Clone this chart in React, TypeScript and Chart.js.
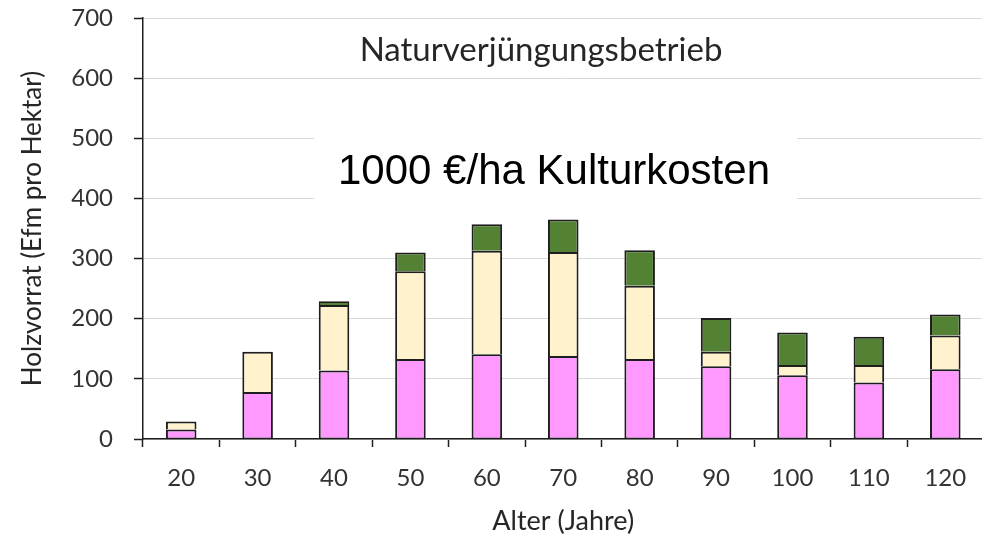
import React, { useEffect, useRef } from 'react';
import { Chart, registerables } from 'chart.js';

Chart.register(...registerables);

const categories = ['20', '30', '40', '50', '60', '70', '80', '90', '100', '110', '120'];
const pinkValues = [16, 78, 114, 133, 141, 138, 133, 121, 106, 94, 116];
const creamValues = [13, 67, 109, 146, 172, 173, 122, 24, 17, 29, 56];
const greenValues = [0, 0, 6, 31, 44, 54, 59, 56, 54, 47, 35];
const yTickValues = [0, 100, 200, 300, 400, 500, 600, 700];
const chartTitle = 'Naturverjüngungsbetrieb';
const annotationText = '1000 €/ha Kulturkosten';
const xAxisTitle = 'Alter (Jahre)';
const yAxisTitle = 'Holzvorrat (Efm pro Hektar)';

const CAL = 'Lato, "Open Sans", sans-serif';
const EDGE = '#1e1e1e';

function segmentBorder(ctx: any) {
  const di = ctx.datasetIndex;
  return {
    left: 2,
    right: 2,
    top: 2,
    bottom: di === 0 ? 1 : 0,
  };
}

const overlayPlugin = {
  id: 'overlayTexts',
  beforeDatasetsDraw(chart: any) {
    const { ctx, chartArea } = chart;
    const L = chartArea.left;
    const T = chartArea.top;
    ctx.save();
    ctx.fillStyle = '#ffffff';
    ctx.fillRect(L + 171, T + 116, 483, 69);
    ctx.fillStyle = '#000000';
    ctx.font = '42px "Liberation Sans", Arial, sans-serif';
    ctx.textAlign = 'center';
    ctx.textBaseline = 'middle';
    ctx.fillText(annotationText, L + 411, T + 154);
    ctx.fillStyle = '#262626';
    ctx.font = '33px ' + CAL;
    ctx.fillText(chartTitle, L + 398, T + 32);
    ctx.restore();
  },
};

export default function App() {
  const ref = useRef<HTMLCanvasElement | null>(null);

  useEffect(() => {
    document.body.style.margin = '0';
    const canvas = ref.current;
    if (!canvas) return;
    const mk = (label: string, data: number[], color: string) => ({
      label,
      data,
      backgroundColor: color,
      borderColor: EDGE,
      borderWidth: segmentBorder,
      borderSkipped: false,
    });
    const chart = new Chart(canvas, {
      type: 'bar',
      data: {
        labels: categories,
        datasets: [
          mk('Pink', pinkValues, '#FF99FF'),
          mk('Cream', creamValues, '#FFF2CC'),
          mk('Green', greenValues, '#548235'),
        ] as any,
      },
      options: {
        responsive: false,
        animation: false,
        devicePixelRatio: 1,
        layout: { padding: { left: 0, right: 6.5, top: 18, bottom: 0 } },
        datasets: {
          bar: { barPercentage: 0.8, categoryPercentage: 0.5 },
        },
        plugins: {
          legend: { display: false },
          tooltip: { enabled: false },
          title: { display: false },
        },
        scales: {
          x: {
            stacked: true,
            grid: {
              display: true,
              drawOnChartArea: false,
              drawTicks: true,
              tickLength: 8,
              tickColor: EDGE,
              tickWidth: 1.5,
              offset: true,
            },
            border: { display: true, color: EDGE, width: 1.5 },
            ticks: {
              color: '#333333',
              font: { family: CAL, size: 24 },
              padding: 17,
              maxRotation: 0,
              autoSkip: false,
            },
            title: {
              display: true,
              text: xAxisTitle,
              color: '#262626',
              font: { family: CAL, size: 27 },
              padding: { top: 0, bottom: 1 },
            },
            afterFit(scale: any) {
              scale.height = 99;
              scale.paddingLeft = 0;
              scale.paddingRight = 0;
            },
          },
          y: {
            stacked: true,
            min: 0,
            max: 700,
            afterBuildTicks(scale: any) {
              scale.ticks = yTickValues.map((v) => ({ value: v }));
            },
            grid: {
              color: '#d9d9d9',
              lineWidth: 1,
              drawTicks: true,
              tickLength: 9,
              tickColor: EDGE,
              tickWidth: 1.5,
            },
            border: { display: true, color: EDGE, width: 1.5 },
            ticks: {
              color: '#333333',
              font: { family: CAL, size: 24 },
              padding: 21,
            },
            title: {
              display: true,
              text: yAxisTitle,
              color: '#262626',
              font: { family: CAL, size: 26 },
              padding: { top: 17, bottom: 0 },
            },
            afterFit(scale: any) {
              scale.width = 143;
              scale.paddingTop = 0;
              scale.paddingBottom = 0;
            },
          },
        },
      },
      plugins: [overlayPlugin],
    });
    return () => chart.destroy();
  }, []);

  return (
    <div style={{ width: 982, height: 538, overflow: 'hidden', position: 'relative' }}>
      <canvas ref={ref} width={990} height={538} style={{ display: 'block' }} />
    </div>
  );
}
